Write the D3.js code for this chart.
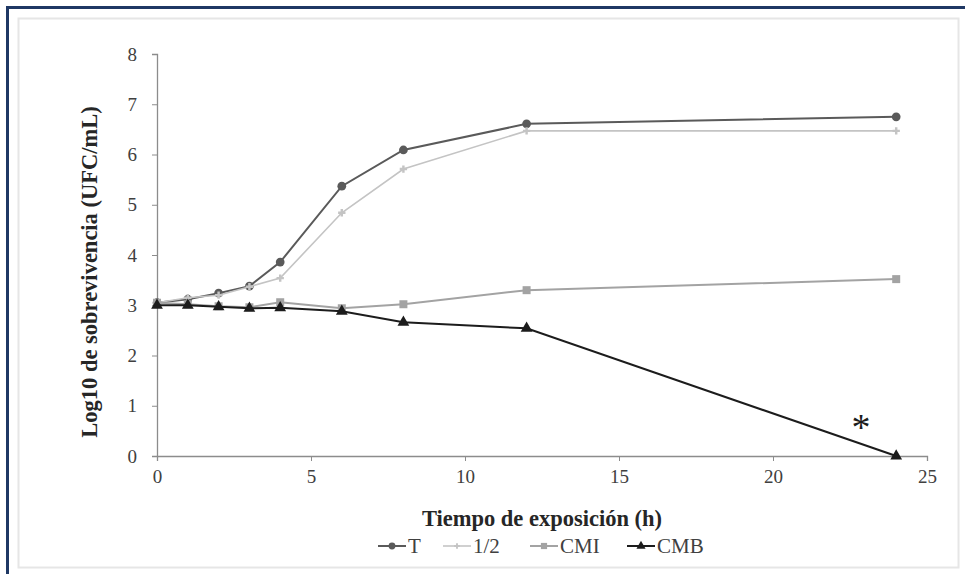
<!DOCTYPE html>
<html>
<head>
<meta charset="utf-8">
<script src="https://cdn.jsdelivr.net/npm/d3@7"></script>
<style>
  html, body { margin: 0; padding: 0; background: #fff; }
  svg { display: block; }
</style>
</head>
<body>
<div id="chart"></div>
<script>
// Curva de sobrevivencia: Log10 UFC/mL vs tiempo de exposición

const hours = [0, 1, 2, 3, 4, 6, 8, 12, 24];
const serieT = [3.05, 3.12, 3.24, 3.38, 3.86, 5.37, 6.09, 6.61, 6.75];
const serieMitad = [3.05, 3.15, 3.20, 3.37, 3.54, 4.84, 5.71, 6.47, 6.47];
const serieCMI = [3.05, 3.02, 2.98, 2.96, 3.06, 2.94, 3.02, 3.30, 3.52];
const serieCMB = [3.00, 3.00, 2.97, 2.94, 2.95, 2.88, 2.66, 2.54, 0];
const seriesNames = ["T", "1/2", "CMI", "CMB"];
const xTicks = [0, 5, 10, 15, 20, 25];
const yTicks = [0, 1, 2, 3, 4, 5, 6, 7, 8];

const W = 965, H = 574;
const svg = d3.select("#chart").append("svg")
  .attr("width", W)
  .attr("height", H);

// marco
svg.append("rect")
  .attr("x", 18.5).attr("y", 18.5)
  .attr("width", 940).attr("height", 549)
  .attr("fill", "#fff")
  .attr("stroke", "#e6e6e6").attr("stroke-width", 2);
svg.append("path")
  .attr("d", `M7.5,${H} V7.5 H${W}`)
  .attr("fill", "none")
  .attr("stroke", "#1f3864")
  .attr("stroke-width", 3);

const x = d3.scaleLinear().domain([0, 25]).range([157, 927]);
const y = d3.scaleLinear().domain([0, 8]).range([456, 54]);

const font = "'Liberation Serif', 'Times New Roman', serif";

// ejes
const gx = svg.append("g")
  .attr("transform", `translate(0,${y(0)})`)
  .call(d3.axisBottom(x).tickValues(xTicks).tickSize(5).tickPadding(9));
const gy = svg.append("g")
  .attr("transform", `translate(${x(0)},0)`)
  .call(d3.axisLeft(y).tickValues(yTicks).tickSize(5).tickPadding(15));

[gx, gy].forEach(g => {
  g.select(".domain").attr("stroke", "#8c8c8c").attr("stroke-width", 1.3);
  g.selectAll(".tick line").attr("stroke", "#8c8c8c");
  g.selectAll("text")
    .style("font-family", font)
    .style("font-size", "19px")
    .attr("fill", "#404040");
});

const styles = [
  { name: seriesNames[0], values: serieT, color: "#5a5a5a", width: 2, marker: "circle" },
  { name: seriesNames[1], values: serieMitad, color: "#c4c4c4", width: 1.6, marker: "plus" },
  { name: seriesNames[2], values: serieCMI, color: "#a3a3a3", width: 2, marker: "square" },
  { name: seriesNames[3], values: serieCMB, color: "#1c1c1c", width: 2, marker: "triangle" }
];

const symbolType = {
  circle: d3.symbolCircle,
  plus: d3.symbolCross,
  square: d3.symbolSquare,
  triangle: d3.symbolTriangle
};
const symbolSize = { circle: 60, plus: 30, square: 64, triangle: 60 };

const line = d3.line()
  .x(d => x(d.h))
  .y(d => y(d.v));

styles.forEach(s => {
  const pts = hours.map((h, i) => ({ h, v: s.values[i] }));
  svg.append("path")
    .datum(pts)
    .attr("d", line)
    .attr("fill", "none")
    .attr("stroke", s.color)
    .attr("stroke-width", s.width);
  svg.selectAll(null)
    .data(pts)
    .enter().append("path")
    .attr("transform", d => `translate(${x(d.h)},${y(d.v)})`)
    .attr("d", d3.symbol().type(symbolType[s.marker]).size(symbolSize[s.marker]))
    .attr("fill", s.color);
});

// asterisco
svg.append("text")
  .attr("x", 861)
  .attr("y", 440)
  .attr("text-anchor", "middle")
  .style("font-family", font)
  .style("font-size", "38px")
  .attr("fill", "#1c1c1c")
  .text("*");

// títulos de ejes
svg.append("text")
  .attr("x", 542)
  .attr("y", 526)
  .attr("text-anchor", "middle")
  .style("font-family", font)
  .style("font-size", "22.5px")
  .style("font-weight", "700")
  .attr("fill", "#262626")
  .text("Tiempo de exposición (h)");

svg.append("text")
  .attr("transform", "translate(97,272) rotate(-90)")
  .attr("text-anchor", "middle")
  .style("font-family", font)
  .style("font-size", "22.5px")
  .style("font-weight", "700")
  .attr("fill", "#262626")
  .text("Log10 de sobrevivencia (UFC/mL)");

// leyenda
const legendX = [378, 443, 530, 627];
const legend = svg.append("g");
styles.forEach((s, i) => {
  const lx = legendX[i], ly = 546;
  legend.append("line")
    .attr("x1", lx).attr("x2", lx + 28)
    .attr("y1", ly).attr("y2", ly)
    .attr("stroke", s.color).attr("stroke-width", s.width);
  legend.append("path")
    .attr("transform", `translate(${lx + 14},${ly})`)
    .attr("d", d3.symbol().type(symbolType[s.marker]).size(symbolSize[s.marker] * 0.6))
    .attr("fill", s.color);
  legend.append("text")
    .attr("x", lx + 30)
    .attr("y", ly + 7)
    .style("font-family", font)
    .style("font-size", "21px")
    .attr("fill", "#404040")
    .text(s.name);
});
</script>
</body>
</html>
